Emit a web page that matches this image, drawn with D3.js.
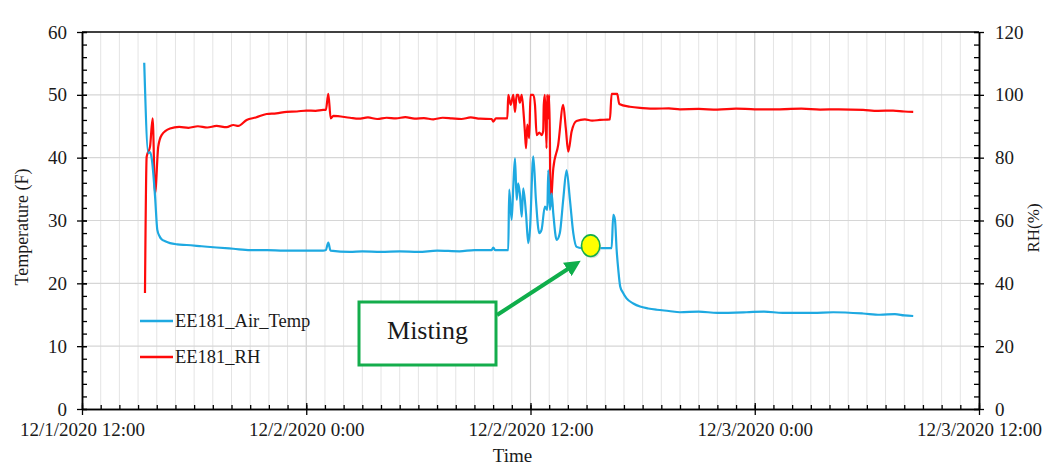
<!DOCTYPE html>
<html>
<head>
<meta charset="utf-8">
<script src="https://cdn.jsdelivr.net/npm/d3@7/dist/d3.min.js"></script>
<style>
  html, body { margin: 0; padding: 0; background: #ffffff; }
  svg { display: block; }
  text { font-family: "Liberation Serif", "Times New Roman", serif; fill: #1a1a1a; }
</style>
</head>
<body>
<svg id="chart" width="1048" height="467"></svg>
<script>
// ---- Data (hours since 12/1/2020 12:00) ----
const tempHours = [3.33,3.55,3.64,3.73,3.91,4.03,4.15,4.26,4.45,4.71,5.1,5.6,6.4,7.2,8.1,9.0,9.9,10.8,11.9,12.9,13.05,13.18,13.3,14.34,15.0,16.0,17.0,18.0,19.0,20.2,21.0,21.92,22.01,22.10,22.81,22.86,22.99,23.08,23.17,23.26,23.34,23.43,23.53,23.61,23.76,23.88,23.97,24.15,24.29,24.47,24.59,24.77,24.90,24.95,25.04,25.13,25.22,25.40,25.57,25.75,25.93,26.11,26.29,26.47,26.74,27.5,28.34,28.43,28.52,28.61,28.70,28.80,28.95,29.14,29.5,29.86,30.3,30.75,31.4,32.0,33.0,34.0,35.56,36.5,37.5,39.11,40.2,41.79,42.7,43.5,44.0,44.48];
const tempValues = [55.1,40.7,40.9,39.9,33.8,28.5,27.5,27.0,26.7,26.4,26.2,26.1,25.9,25.7,25.5,25.3,25.3,25.2,25.2,25.2,25.3,26.5,25.2,25.0,25.1,25.0,25.1,25.0,25.2,25.1,25.3,25.3,25.7,25.3,25.3,34.9,30.1,35.4,39.9,33.3,35.9,34.3,30.6,35.1,31.1,26.4,28.5,40.2,33.3,28.0,28.5,32.2,31.7,38.0,31.7,34.3,31.1,26.9,28.0,33.3,38.0,33.3,28.0,25.8,25.6,25.6,25.6,30.9,30.1,25.3,22.1,19.5,18.5,17.6,16.8,16.3,16.0,15.8,15.6,15.4,15.5,15.3,15.4,15.5,15.3,15.3,15.4,15.2,15.0,15.1,14.9,14.8];

const rhHours = [3.37,3.46,3.64,3.78,3.91,4.08,4.26,4.71,5.2,5.7,6.2,6.7,7.2,7.74,8.10,8.36,8.81,9.3,9.88,10.4,10.95,11.5,12.0,12.5,12.91,13.05,13.18,13.31,13.45,14.34,14.8,15.3,15.8,16.3,16.8,17.3,17.8,18.3,18.8,19.3,19.8,20.3,20.8,21.3,21.92,22.01,22.15,22.76,22.81,22.94,23.08,23.17,23.26,23.34,23.43,23.53,23.65,23.70,23.76,23.83,23.93,24.0,24.15,24.24,24.33,24.47,24.59,24.68,24.71,24.77,24.86,24.89,24.95,25.0,25.04,25.07,25.22,25.48,25.75,25.89,26.02,26.20,26.46,26.91,27.3,27.72,28.25,28.34,28.64,28.75,29.32,30.0,30.7,31.4,32.0,33.0,34.0,35.0,36.0,37.35,38.5,39.5,40.5,41.8,42.6,43.4,44.0,44.48];
const rhValues = [36.9,80.3,83.5,92.5,68.7,83.5,87.2,89.3,89.8,89.5,90.0,89.6,90.1,89.7,90.4,90.1,92.0,92.8,93.9,94.1,94.6,94.7,95.0,94.9,95.2,95.2,100.3,92.5,93.3,92.7,92.4,92.8,92.3,92.7,92.5,92.9,92.4,92.6,92.2,92.7,92.5,92.3,92.8,92.4,92.3,91.5,92.5,92.5,100,96.8,100,94.6,100,100,97.5,100,92.5,88.3,83.0,90.5,86.2,100,100,96.8,87.2,88.0,87.2,88.5,96.8,100,83,100,92.5,100,85,64.4,76.6,84.0,96.8,89.3,81.9,88.3,91.7,92.2,91.8,92.0,92.2,100.3,100.3,97.1,96.2,95.8,95.6,95.7,95.4,95.5,95.3,95.6,95.4,95.4,95.6,95.3,95.4,95.2,94.9,95.0,94.7,94.6];

const seriesNames = ["EE181_Air_Temp", "EE181_RH"];
const tempTicks = [0,10,20,30,40,50,60];
const rhTicks = [0,20,40,60,80,100,120];
const annotationText = "Misting";
const mistingPoint = [27.22, 26.0]; // hours, temperature

// ---- Layout ----
const W = 1048, H = 467;
const m = {left: 82, right: 69, top: 32, bottom: 58};
const iw = W - m.left - m.right, ih = H - m.top - m.bottom;
const start = new Date(2020, 11, 1, 12, 0, 0);
const toDate = h => new Date(start.getTime() + h * 3600e3);

const svg = d3.select("#chart");
const g = svg.append("g").attr("transform", `translate(${m.left},${m.top})`);

const x = d3.scaleTime().domain([start, toDate(48)]).range([0, iw]);
const yL = d3.scaleLinear().domain([0, 60]).range([ih, 0]);
const yR = d3.scaleLinear().domain([0, 120]).range([ih, 0]);

const hourTicks = d3.range(0, 49, 1).map(toDate);
const majorTimeTicks = d3.range(0, 49, 12).map(toDate);

// ---- Grid ----
g.append("g").selectAll("line").data(hourTicks.filter((d,i)=> i % 12 !== 0)).join("line")
  .attr("x1", d => x(d)).attr("x2", d => x(d)).attr("y1", 0).attr("y2", ih)
  .attr("stroke", "#e4e4e4").attr("stroke-width", 1);
g.append("g").selectAll("line").data(majorTimeTicks.slice(1, -1)).join("line")
  .attr("x1", d => x(d)).attr("x2", d => x(d)).attr("y1", 0).attr("y2", ih)
  .attr("stroke", "#d0d0d0").attr("stroke-width", 1.2);
g.append("g").selectAll("line").data(tempTicks.slice(1, -1)).join("line")
  .attr("x1", 0).attr("x2", iw).attr("y1", d => yL(d)).attr("y2", d => yL(d))
  .attr("stroke", "#d6d6d6").attr("stroke-width", 1.2);

// top border
g.append("line").attr("x1", 0).attr("x2", iw).attr("y1", 0).attr("y2", 0)
  .attr("stroke", "#000").attr("stroke-width", 1.5);

const fmt = d => `${d.getMonth()+1}/${d.getDate()}/${d.getFullYear()} ${d.getHours()}:${String(d.getMinutes()).padStart(2,"0")}`;

// ---- Axes ----
function styleAxis(sel, fs) {
  sel.select(".domain").attr("stroke", "#000").attr("stroke-width", 1.5);
  sel.selectAll(".tick line").attr("stroke", "#000").attr("stroke-width", 1.3);
  sel.selectAll("text").style("font-size", fs + "px").attr("fill", "#1a1a1a");
}
g.append("g").call(d3.axisLeft(yL).tickValues(d3.range(0, 61, 2)).tickSize(-5).tickFormat("").tickSizeOuter(0))
  .call(s => styleAxis(s, 19));
const gl = g.append("g").call(d3.axisLeft(yL).tickValues(tempTicks).tickSize(5).tickPadding(10).tickSizeOuter(0))
  .call(s => styleAxis(s, 19));
gl.selectAll(".tick line").attr("x1", 5);

g.append("g").attr("transform", `translate(${iw},0)`)
  .call(d3.axisRight(yR).tickValues(d3.range(0, 121, 4)).tickSize(-5).tickFormat("").tickSizeOuter(0))
  .call(s => styleAxis(s, 19));
const gr = g.append("g").attr("transform", `translate(${iw},0)`)
  .call(d3.axisRight(yR).tickValues(rhTicks).tickSize(5).tickPadding(11).tickSizeOuter(0))
  .call(s => styleAxis(s, 19));
gr.selectAll(".tick line").attr("x1", -5);

g.append("g").attr("transform", `translate(0,${ih})`)
  .call(d3.axisBottom(x).tickValues(hourTicks).tickSize(-4).tickFormat("").tickSizeOuter(0))
  .call(s => styleAxis(s, 19));
const gb = g.append("g").attr("transform", `translate(0,${ih})`)
  .call(d3.axisBottom(x).tickValues(majorTimeTicks).tickSize(6).tickPadding(8).tickFormat(fmt).tickSizeOuter(0))
  .call(s => styleAxis(s, 19));
gb.selectAll(".tick line").attr("y1", -6);

// ---- Axis titles ----
svg.append("text").attr("x", m.left + iw / 2 - 18).attr("y", 462).attr("text-anchor", "middle")
  .style("font-size", "19px").text("Time");
svg.append("text").attr("transform", "translate(28,227) rotate(-90)").attr("text-anchor", "middle")
  .style("font-size", "18px").text("Temperature (F)");
svg.append("text").attr("transform", "translate(1039,228) rotate(-90)").attr("text-anchor", "middle")
  .style("font-size", "17px").text("RH(%)");

// ---- Lines ----
const blue = "#1ea9e1", red = "#ff0a0a";
const tempData = tempHours.map((h, i) => [toDate(h), tempValues[i]]);
const rhData = rhHours.map((h, i) => [toDate(h), rhValues[i]]);

g.append("path").datum(rhData)
  .attr("fill", "none").attr("stroke", red).attr("stroke-width", 2.2).attr("stroke-linejoin", "round")
  .attr("d", d3.line().curve(d3.curveMonotoneX).x(d => x(d[0])).y(d => yR(d[1])));
g.append("path").datum(tempData)
  .attr("fill", "none").attr("stroke", blue).attr("stroke-width", 2.2).attr("stroke-linejoin", "round")
  .attr("d", d3.line().curve(d3.curveMonotoneX).x(d => x(d[0])).y(d => yL(d[1])));

// ---- Legend ----
const legend = svg.append("g");
[[blue, 321], [red, 357]].forEach(([c, yy], i) => {
  legend.append("line").attr("x1", 140).attr("x2", 173).attr("y1", yy).attr("y2", yy)
    .attr("stroke", c).attr("stroke-width", 2.5);
  legend.append("text").attr("x", 175).attr("y", yy).attr("dy", "0.35em")
    .style("font-size", "18.5px").text(seriesNames[i]);
});

// ---- Annotation ----
const defs = svg.append("defs");
defs.append("marker").attr("id", "arr").attr("viewBox", "0 0 10 10").attr("refX", 5).attr("refY", 5)
  .attr("markerWidth", 4).attr("markerHeight", 4).attr("orient", "auto")
  .append("path").attr("d", "M0,0 L10,5 L0,10 Z").attr("fill", "#0fae4b");

svg.append("rect").attr("x", 359).attr("y", 302).attr("width", 137).attr("height", 63)
  .attr("fill", "#fff").attr("stroke", "#14ad4c").attr("stroke-width", 3);
svg.append("text").attr("x", 427.5).attr("y", 339).attr("text-anchor", "middle")
  .style("font-size", "26px").attr("fill", "#000").text(annotationText);
svg.append("line").attr("x1", 497).attr("y1", 315).attr("x2", 574).attr("y2", 265)
  .attr("stroke", "#0fae4b").attr("stroke-width", 4).attr("marker-end", "url(#arr)");

const cx = m.left + x(toDate(mistingPoint[0])), cy = m.top + yL(mistingPoint[1]);
svg.append("ellipse").attr("cx", cx + 1).attr("cy", cy + 1.5).attr("rx", 9.5).attr("ry", 11)
  .attr("fill", "#bbb").attr("opacity", 0.5);
svg.append("ellipse").attr("cx", cx).attr("cy", cy).attr("rx", 9.2).attr("ry", 10.8)
  .attr("fill", "#ffff00").attr("stroke", "#14ad4c").attr("stroke-width", 1.6);
</script>
</body>
</html>
